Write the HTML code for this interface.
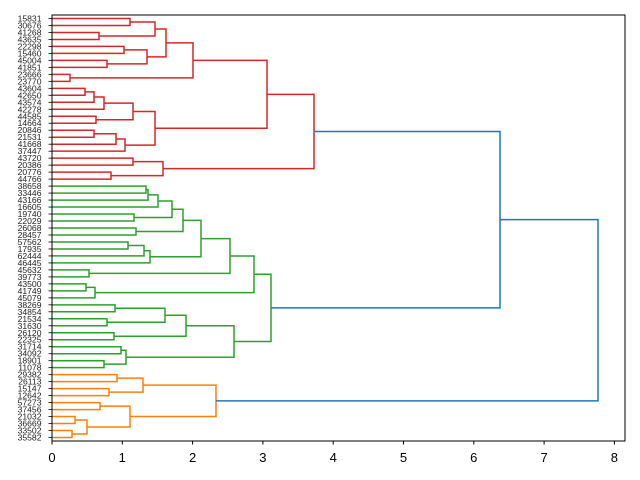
<!DOCTYPE html>
<html><head><meta charset="utf-8"><style>body{margin:0;background:#fff}svg{display:block}</style></head>
<body><svg id="s" width="640" height="480" xmlns="http://www.w3.org/2000/svg" font-family="Liberation Sans, DejaVu Sans, sans-serif"></svg>
<script>
const labels="15831 30676 41268 43635 22298 15460 45004 41851 23666 23770 43604 42650 43574 42278 44585 14664 20846 21531 41668 37447 43720 20386 20776 44766 38658 33446 43166 16605 19740 22029 26068 28457 57562 17935 62444 46445 45632 39773 43500 41749 45079 38269 34854 21534 31630 26120 22325 31714 34092 18901 11078 29382 26113 15147 12642 57273 37456 21032 36669 33502 35582".split(" ");
const X0=52,TOP=15,BOT=441,N=labels.length,STEP=(BOT-TOP)/N;
const ly=i=>TOP+STEP*(i+0.5);
const A=[166,[155,[130,0,1],[99,2,3]],[147,[124,4,5],[107,6,7]]];
const B=[193,A,[70,8,9]];
const C=[104,[94,[85,10,11],12],13];
const D=[133,C,[96,14,15]];
const E=[125,[116,[94,16,17],18],19];
const F=[155,D,E];
const G=[267,B,F];
const H=[163,[133,20,21],[111,22,23]];
const R=[314,G,H];
const g1=[158,[148,[146,24,25],26],27];
const g2=[172,g1,[134,28,29]];
const g3=[183,g2,[136,30,31]];
const g4=[150,[144,[128,32,33],34],35];
const g5=[201,g3,g4];
const g6=[230,g5,[89,36,37]];
const g7=[254,g6,[95,[86,38,39],40]];
const g8=[165,[115,41,42],[107,43,44]];
const g9=[186,g8,[114,45,46]];
const g10=[126,[121,47,48],[104,49,50]];
const g11=[234,g9,g10];
const Gr=[271,g7,g11];
const o1=[143,[117,51,52],[109,53,54]];
const o2=[130,[100,55,56],[87,[75,57,58],[72,59,60]]];
const O=[216,o1,o2];
R.c="#d62728";Gr.c="#2ca02c";O.c="#ff7f0e";
const ROOT=[598,[500,R,Gr],O];
let out="";
function draw(n,col){
  if(typeof n==="number")return [X0,ly(n)];
  const c=n.c||col;
  const [x,l,r]=n;
  const a=draw(l,c),b=draw(r,c);
  out+=`<path d="M${a[0]},${a[1]}H${x}V${b[1]}H${b[0]}" fill="none" stroke="${c}" stroke-width="1.5"/>`;
  return [x,(a[1]+b[1])/2];
}
draw(ROOT,"#1f77b4");
let s=out;
s+=`<rect x="${X0}" y="${TOP}" width="573" height="${BOT-TOP}" fill="none" stroke="#000" stroke-width="1"/>`;
for(let k=0;k<=8;k++){const x=X0+70.3*k;s+=`<line x1="${x}" y1="${BOT}" x2="${x}" y2="${BOT+3.5}" stroke="#000"/><text x="${x}" y="${BOT+21}" font-size="13" text-anchor="middle">${k}</text>`;}
labels.forEach((t,i)=>{const y=ly(i);s+=`<line x1="${X0-3.5}" y1="${y}" x2="${X0}" y2="${y}" stroke="#000" stroke-width="0.8"/><text x="41.5" y="${y+3}" font-size="8.6" text-anchor="end" fill="#222">${t}</text>`;});
document.getElementById("s").innerHTML=s;
</script></body></html>
